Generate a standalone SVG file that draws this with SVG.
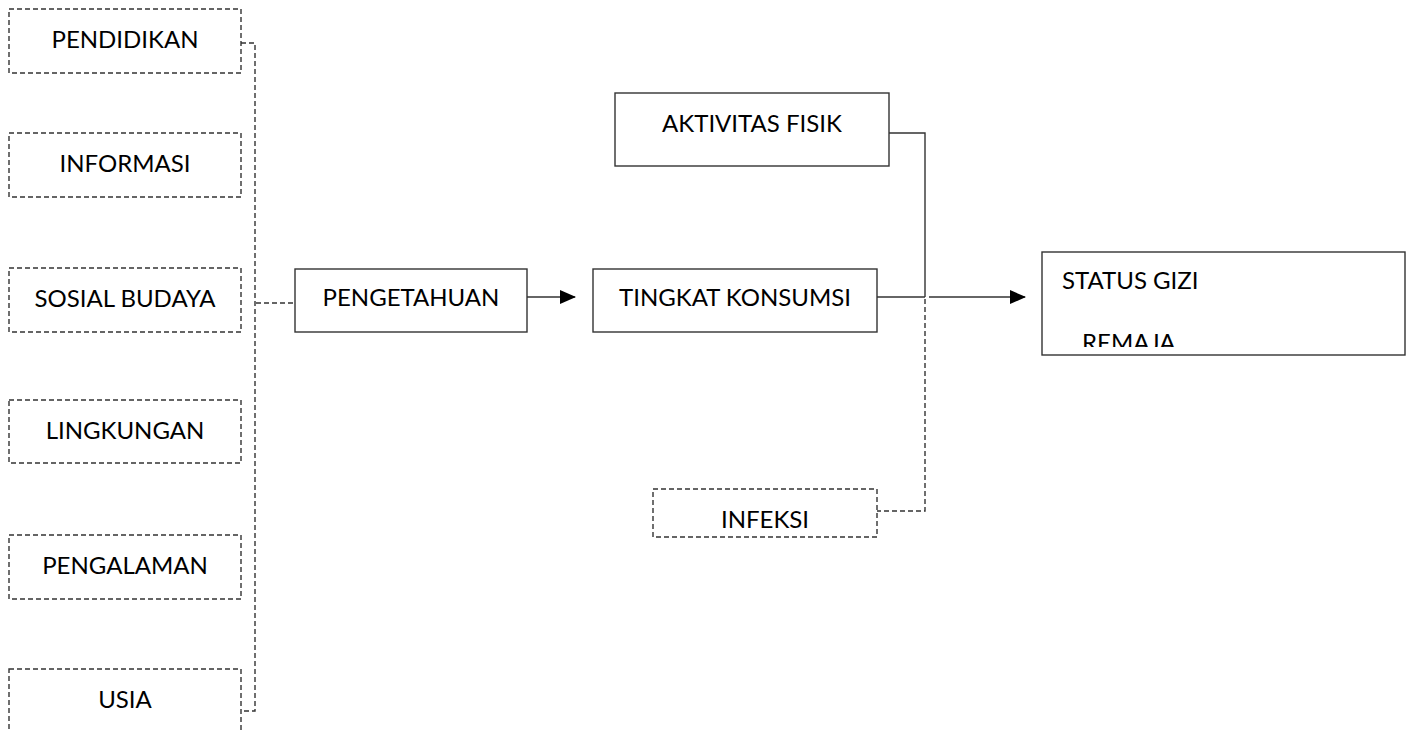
<svg xmlns="http://www.w3.org/2000/svg" width="1410" height="732" viewBox="0 0 1410 732">
<style>
.box{fill:#fff;stroke:#333;stroke-width:1.4}
.dash{stroke-dasharray:5,3}
.ln{fill:none;stroke:#333;stroke-width:1.4}
text{font-family:Lato,"Liberation Sans",sans-serif;font-size:24px;fill:#000}
.c{text-anchor:middle}
</style>
<defs>
<marker id="ah" markerWidth="16" markerHeight="14" refX="15" refY="7" orient="auto" markerUnits="userSpaceOnUse">
<path d="M0,0 L16,7 L0,14 Z" fill="#000"/>
</marker>
<clipPath id="cg"><rect x="1043" y="253" width="361" height="94"/></clipPath>
</defs>
<g id="connectors">
<path class="ln dash" d="M241,43 H255 V711 H241"/>
<path class="ln dash" d="M256,303 H295"/>
<path class="ln" d="M527,297 H575" marker-end="url(#ah)"/>
<path class="ln" d="M889,133 H925 V297"/>
<path class="ln" d="M877,297 H925"/>
<path class="ln" d="M929,297 H1025" marker-end="url(#ah)"/>
<path class="ln dash" d="M925,299 V511 H877"/>
</g>
<g id="pendidikan"><rect class="box dash" x="9" y="9" width="232" height="64"/><text class="c" x="125" y="48">PENDIDIKAN</text></g>
<g id="informasi"><rect class="box dash" x="9" y="133" width="232" height="64"/><text class="c" x="125" y="172">INFORMASI</text></g>
<g id="sosial-budaya"><rect class="box dash" x="9" y="268" width="232" height="64"/><text class="c" x="125" y="307">SOSIAL BUDAYA</text></g>
<g id="lingkungan"><rect class="box dash" x="9" y="400" width="232" height="63"/><text class="c" x="125" y="439">LINGKUNGAN</text></g>
<g id="pengalaman"><rect class="box dash" x="9" y="535" width="232" height="64"/><text class="c" x="125" y="574">PENGALAMAN</text></g>
<g id="usia"><rect class="box dash" x="9" y="669" width="232" height="70"/><text class="c" x="125" y="708">USIA</text></g>
<g id="pengetahuan"><rect class="box" x="295" y="269" width="232" height="63"/><text class="c" x="411" y="306">PENGETAHUAN</text></g>
<g id="tingkat-konsumsi"><rect class="box" x="593" y="269" width="284" height="63"/><text class="c" x="735" y="306">TINGKAT KONSUMSI</text></g>
<g id="aktivitas-fisik"><rect class="box" x="615" y="93" width="274" height="73"/><text class="c" x="752" y="132">AKTIVITAS FISIK</text></g>
<g id="infeksi"><rect class="box dash" x="653" y="489" width="224" height="48"/><text class="c" x="765" y="528">INFEKSI</text></g>
<g id="status-gizi"><rect class="box" x="1042" y="252" width="363" height="103"/><text x="1062" y="289">STATUS GIZI</text><text x="1082" y="351" clip-path="url(#cg)">REMAJA</text></g>
</svg>
